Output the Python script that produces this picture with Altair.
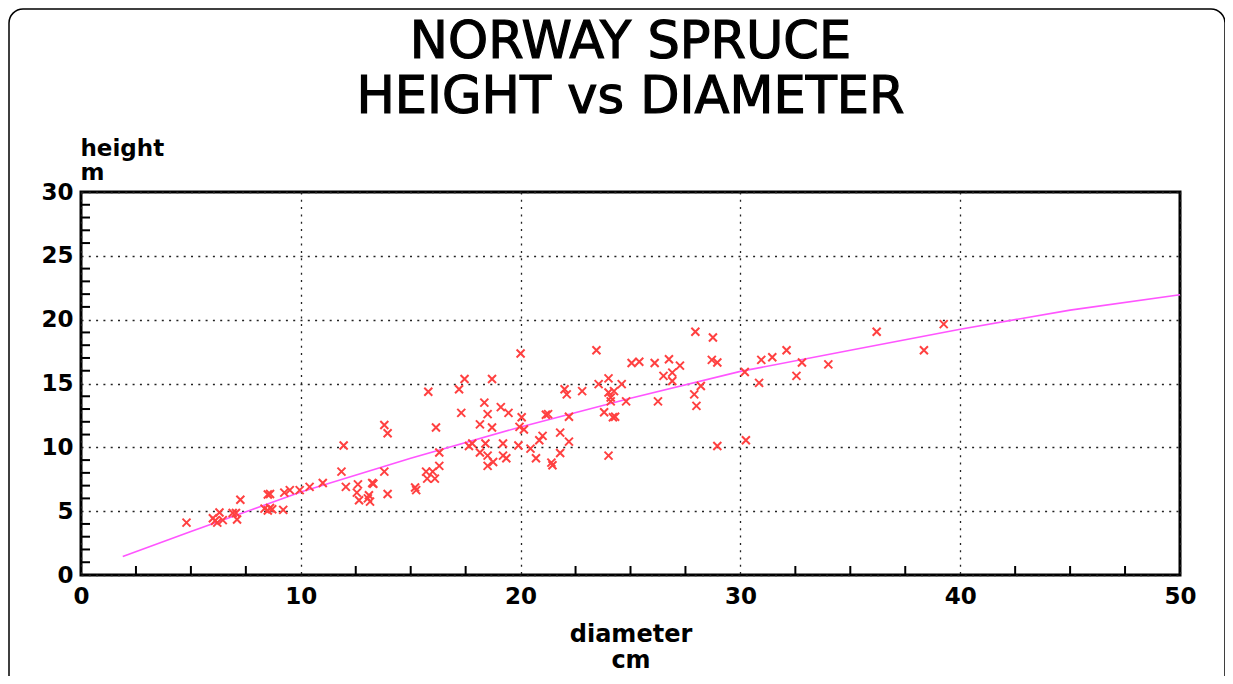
import altair as alt
import pandas as pd

# ---- data ----
diameter = [
    4.8, 6.0, 6.1, 6.2, 6.3, 6.45, 6.9, 7.05, 7.1, 7.25, 8.35, 8.5, 8.6, 8.7, 8.5, 8.6,
    9.2, 9.25, 9.5, 9.95, 10.4, 11.0,
    11.95, 11.85, 12.05, 12.6, 12.55, 12.65, 13.1, 13.05, 13.15, 13.25, 13.3, 13.8, 13.95,
    13.8, 13.95, 15.2, 15.25, 15.8, 16.15, 15.7, 16.0, 15.75, 16.1, 16.3, 16.3, 17.2, 17.45,
    17.3, 17.65, 17.8, 18.15, 18.35, 18.5, 18.7, 18.7, 18.15, 18.5, 18.4, 18.75, 18.5, 19.1,
    19.45, 19.2, 19.2, 19.35, 20.0, 20.05, 19.95, 20.15, 19.9, 20.45, 20.7, 20.85, 21.0,
    21.15, 21.25,
    21.8, 22.2, 21.8, 21.4, 21.45, 22.2, 22.0, 22.1, 22.8, 23.45, 23.55, 24.0, 24.0, 24.25,
    24.1, 24.1, 24.6, 24.8, 23.8, 24.2, 24.3, 24.0, 25.05, 25.4, 26.1, 26.25, 26.5, 26.75,
    26.9, 26.9, 27.25, 27.95, 28.75, 28.7, 28.95, 27.9, 28.2, 28.0, 28.95,
    30.2, 30.25, 30.85, 30.95, 31.45, 32.1, 32.55, 32.8, 34.0, 36.2, 38.35, 39.25,
]
height = [
    4.1, 4.45, 4.25, 4.1, 4.9, 4.3, 4.85, 4.85, 4.35, 5.9, 5.2, 5.05, 5.25, 5.15, 6.3, 6.35,
    5.1, 6.45, 6.65, 6.65, 6.9, 7.2,
    10.15, 8.1, 6.9, 7.1, 6.45, 5.85, 6.25, 6.0, 5.75, 7.2, 7.15, 11.75, 11.1,
    8.1, 6.35, 6.85, 6.65, 14.35, 11.55, 8.1, 8.1, 7.55, 7.55, 9.6, 8.55, 14.55, 15.35,
    12.7, 10.1, 10.3, 11.8, 13.5, 12.6, 11.55, 15.35, 9.6, 9.35, 10.3, 8.85, 8.55, 13.15,
    12.7, 10.3, 9.35, 9.15, 17.35, 12.35, 11.6, 11.4, 10.15, 9.9, 9.15, 10.55, 10.9,
    12.55, 12.6,
    11.15, 10.45, 9.55, 8.8, 8.6, 12.4, 14.55, 14.15, 14.4, 17.6, 14.95, 15.4, 14.3, 14.4,
    13.9, 13.6, 14.95, 13.6, 12.75, 12.35, 12.4, 9.35, 16.6, 16.7, 16.6, 13.6, 15.6, 16.9,
    15.85, 15.2, 16.4, 19.05, 18.6, 16.85, 16.65, 14.15, 14.8, 13.25, 10.1,
    15.9, 10.55, 15.05, 16.85, 17.05, 17.6, 15.6, 16.65, 16.5, 19.05, 17.6, 19.65,
]
fit_diameter = [1.9, 5, 10, 15, 20, 25, 30, 35, 40, 45, 50]
fit_height = [1.45, 3.4, 6.5, 9.15, 11.6, 13.85, 15.95, 17.6, 19.25, 20.75, 21.95]

x_labels = [0, 10, 20, 30, 40, 50]
y_labels = [0, 5, 10, 15, 20, 25, 30]
x_minor = [2.5, 5, 7.5, 12.5, 15, 17.5, 22.5, 25, 27.5, 32.5, 35, 37.5, 42.5, 45, 47.5]
y_minor = [1, 2, 3, 4, 6, 7, 8, 9, 11, 12, 13, 14, 16, 17, 18, 19,
           21, 22, 23, 24, 26, 27, 28, 29]

title_lines = ["NORWAY SPRUCE", "HEIGHT vs DIAMETER"]

# ---- layout ----
W, H = 1099, 383
FONT = "DejaVu Sans"

xscale = alt.Scale(domain=[0, 50], nice=False, zero=False)
yscale = alt.Scale(domain=[0, 30], nice=False, zero=False)

x_axis = alt.Axis(
    values=x_labels, grid=True, gridDash=[2, 5.3], gridColor="#222222", gridWidth=1.3,
    ticks=False, domain=False, labelFont=FONT, labelFontSize=23, labelFontWeight="bold",
    labelColor="black", labelPadding=10, labelFlush=False, labelOverlap=False,
    title=["diameter", "cm"], titleFont=FONT, titleFontSize=24, titleFontWeight="bold",
    titleColor="black", titleLineHeight=26, titleX=W / 2, titleY=66,
    titleAlign="center", titleBaseline="alphabetic",
)
y_axis = alt.Axis(
    values=y_labels, grid=True, gridDash=[2, 5.3], gridColor="#222222", gridWidth=1.3,
    ticks=False, domain=False, labelFont=FONT, labelFontSize=23, labelFontWeight="bold",
    labelColor="black", labelPadding=8, labelOverlap=False, labelFlush=False,
    title=["height", "m"], titleFont=FONT, titleFontSize=23, titleFontWeight="bold",
    titleColor="black", titleLineHeight=24, titleAngle=0, titleX=-1, titleY=-37,
    titleAlign="left", titleBaseline="alphabetic",
)

points_df = pd.DataFrame({"diameter": diameter, "height": height})
fit_df = pd.DataFrame({"diameter": fit_diameter, "height": fit_height})
one = pd.DataFrame({"k": [0]})

frame = alt.Chart(one).mark_rect(
    fillOpacity=0, stroke="black", strokeWidth=1.5, cornerRadius=14
).encode(x=alt.value(-72), x2=alt.value(1144), y=alt.value(-183), y2=alt.value(498))

minor_x = alt.Chart(pd.DataFrame({"diameter": x_minor})).mark_rule(
    color="black", strokeWidth=2
).encode(
    x=alt.X("diameter:Q", scale=xscale, axis=x_axis),
    y=alt.value(H), y2=alt.value(H - 9),
)
minor_y = alt.Chart(pd.DataFrame({"height": y_minor})).mark_rule(
    color="black", strokeWidth=2
).encode(
    y=alt.Y("height:Q", scale=yscale, axis=y_axis),
    x=alt.value(0), x2=alt.value(9),
)

fit_line = alt.Chart(fit_df).mark_line(color="#ff55ff", strokeWidth=1.6).encode(
    x=alt.X("diameter:Q", scale=xscale, axis=x_axis),
    y=alt.Y("height:Q", scale=yscale, axis=y_axis),
)

pts = alt.Chart(points_df).mark_point(
    shape="M-1,-1L1,1M1,-1L-1,1", filled=False, size=64, strokeWidth=2,
    color="#ff4040", opacity=1,
).encode(
    x=alt.X("diameter:Q", scale=xscale, axis=x_axis),
    y=alt.Y("height:Q", scale=yscale, axis=y_axis),
)

title = alt.Chart(one).mark_text(
    text=title_lines, font=FONT, fontSize=51, fontWeight="normal", lineHeight=55,
    align="center", baseline="alphabetic", color="black", stroke="black", strokeWidth=1.2,
).encode(x=alt.value(W / 2), y=alt.value(58 - 192))

chart = alt.layer(frame, minor_x, minor_y, fit_line, pts, title).properties(
    width=W, height=H,
    autosize=alt.AutoSizeParams(type="none"),
    padding={"left": 73, "top": 184, "right": 45, "bottom": 101},
).configure(background="white").configure_view(stroke="black", strokeWidth=3)

chart.save("out.html", embed_options={"renderer": "svg", "actions": False})
